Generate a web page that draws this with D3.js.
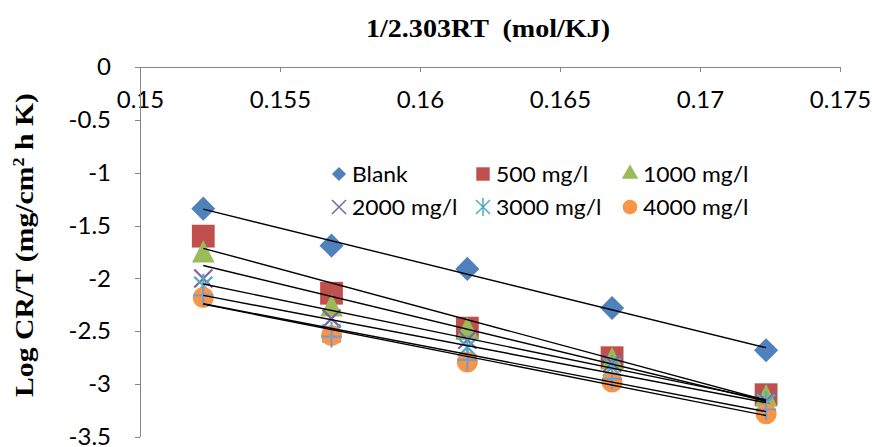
<!doctype html>
<html lang="en">
  <head>
    <meta charset="utf-8">
    <title>Log CR/T vs 1/2.303RT</title>
    <script src="https://d3js.org/d3.v7.min.js"></script>
    <style>
      body { margin: 0; background: #fff; }
      .tick text { font-family: Lato, "Open Sans", sans-serif; font-size: 24px; fill: #000; }
      .axis path, .axis line { stroke: #868686; shape-rendering: crispEdges; }
      .legend text { font-family: Lato, "Open Sans", sans-serif; font-size: 21px; fill: #000; }
      .title { font-family: "Liberation Serif", "Times New Roman", serif; font-weight: bold; font-size: 26px; }
    </style>
  </head>
  <body>
    <div class="chart"></div>
    <script>
      // 1/2.303RT values for 343, 333, 323, 313, 303 K
      const xValues = [0.15226, 0.15684, 0.16169, 0.16686, 0.17236];
      const seriesNames = ['Blank', '500 mg/l', '1000 mg/l', '2000 mg/l', '3000 mg/l', '4000 mg/l', '5000 mg/l'];
      const blank = [-1.34, -1.69, -1.91, -2.28, -2.68];
      const c500 = [-1.60, -2.14, -2.47, -2.75, -3.10];
      const c1000 = [-1.78, -2.29, -2.50, -2.79, -3.14];
      const c2000 = [-2.00, -2.38, -2.58, -2.80, -3.16];
      const c3000 = [-2.07, -2.52, -2.65, -2.84, -3.18];
      const c4000 = [-2.18, -2.54, -2.79, -2.98, -3.28];
      const c5000 = [-2.16, -2.55, -2.77, -2.95, -3.24];
      const xTicks = [0.15, 0.155, 0.16, 0.165, 0.17, 0.175];
      const yTicks = [0, -0.5, -1, -1.5, -2, -2.5, -3, -3.5];

      const w = 872;
      const h = 447;

      const colors = ['#4F81BD', '#C0504D', '#9BBB59', '#8064A2', '#4BACC6', '#F79646', '#7E9BC8'];
      const allSeries = [blank, c500, c1000, c2000, c3000, c4000, c5000];

      const svg = d3.select('.chart').append('svg')
        .attr('width', w)
        .attr('height', h);

      const xScale = d3.scaleLinear().domain([0.15, 0.175]).range([140, 840]);
      const yScale = d3.scaleLinear().domain([0, -3.5]).range([67, 437]);

      // axes
      const xAxis = d3.axisBottom(xScale).tickValues(xTicks).tickSize(5).tickPadding(19);
      svg.append('g').attr('class', 'axis')
        .attr('transform', 'translate(0,' + yScale(0) + ')')
        .call(xAxis)
        .call(g => g.select('.domain').attr('d', 'M' + xScale(0.15) + ',0.5H' + xScale(0.175)));

      const yAxis = d3.axisLeft(yScale).tickValues(yTicks).tickSize(5).tickPadding(24);
      svg.append('g').attr('class', 'axis')
        .attr('transform', 'translate(' + xScale(0.15) + ',0)')
        .call(yAxis)
        .call(g => g.select('.domain').attr('d', 'M0.5,' + yScale(0) + 'V' + yScale(-3.5)));

      svg.selectAll('.axis .tick text').text(d => String(d));

      // markers
      const symbols = ['diamond', d3.symbolSquare, d3.symbolTriangle, 'x', 'star', d3.symbolCircle, 'plus'];
      const sizes = [290, 520, 200, 0, 0, 350, 0];

      function drawMarker(g, i, x, y) {
        const s = symbols[i];
        if (s === 'x') {
          g.append('path').attr('d', `M${x - 9},${y - 9}L${x + 9},${y + 9}M${x + 9},${y - 9}L${x - 9},${y + 9}`)
            .attr('stroke', colors[i]).attr('stroke-width', 2.2).attr('fill', 'none');
        } else if (s === 'star') {
          g.append('path').attr('d', `M${x - 9},${y - 9}L${x + 9},${y + 9}M${x + 9},${y - 9}L${x - 9},${y + 9}M${x},${y - 12}V${y + 12}`)
            .attr('stroke', colors[i]).attr('stroke-width', 2.2).attr('fill', 'none');
        } else if (s === 'plus') {
          g.append('path').attr('d', `M${x - 10},${y}H${x + 10}M${x},${y - 11}V${y + 11}`)
            .attr('stroke', colors[i]).attr('stroke-width', 2.2).attr('fill', 'none');
        } else if (s === 'diamond') {
          g.append('path').attr('d', d3.symbol().type(d3.symbolSquare).size(sizes[i])())
            .attr('transform', `translate(${x},${y}) rotate(45)`)
            .attr('fill', colors[i]);
        } else {
          const sym = d3.symbol().type(s).size(sizes[i]);
          g.append('path').attr('d', sym())
            .attr('transform', s === d3.symbolTriangle ? `translate(${x},${y}) scale(1.05,1.2)` : `translate(${x},${y})`)
            .attr('fill', colors[i]);
        }
      }

      const marks = svg.append('g');
      allSeries.forEach((vals, i) => {
        vals.forEach((v, j) => drawMarker(marks, i, xScale(xValues[j]), yScale(v)));
      });

      // linear trendlines
      const lines = svg.append('g');
      allSeries.forEach(vals => {
        const mx = d3.mean(xValues), my = d3.mean(vals);
        const slope = d3.sum(xValues, (x, k) => (x - mx) * (vals[k] - my)) / d3.sum(xValues, x => (x - mx) * (x - mx));
        const b = my - slope * mx;
        const x0 = xValues[0], x1 = xValues[xValues.length - 1];
        lines.append('line')
          .attr('x1', xScale(x0)).attr('y1', yScale(slope * x0 + b))
          .attr('x2', xScale(x1)).attr('y2', yScale(slope * x1 + b))
          .attr('stroke', '#000').attr('stroke-width', 1.4);
      });

      // legend
      const legend = svg.append('g').attr('class', 'legend');
      const legendX = [339, 483, 630];
      const legendY = [174, 207];
      seriesNames.slice(0, 6).forEach((name, i) => {
        const lx = legendX[i % 3], ly = legendY[Math.floor(i / 3)];
        const s = symbols[i];
        if (s === 'x' || s === 'star') {
          const r = 7;
          let d = `M${lx - r},${ly - r}L${lx + r},${ly + r}M${lx + r},${ly - r}L${lx - r},${ly + r}`;
          if (s === 'star') d += `M${lx},${ly - r - 2}V${ly + r + 2}`;
          legend.append('path').attr('d', d).attr('stroke', colors[i]).attr('stroke-width', 1.5).attr('fill', 'none');
        } else if (s === 'diamond') {
          legend.append('path').attr('d', d3.symbol().type(d3.symbolSquare).size(100)())
            .attr('transform', `translate(${lx},${ly}) rotate(45)`).attr('fill', colors[i]);
        } else {
          const sz = s === d3.symbolSquare ? 180 : s === d3.symbolCircle ? 170 : 120;
          legend.append('path').attr('d', d3.symbol().type(s).size(sz)())
            .attr('transform', `translate(${lx},${ly})`).attr('fill', colors[i]);
        }
        const t = legend.append('text').attr('x', lx + 13).attr('y', ly + 8).text(name);
        const len = t.node().getComputedTextLength();
        t.attr('textLength', len * 1.09).attr('lengthAdjust', 'spacingAndGlyphs');
      });

      // titles
      svg.append('text').attr('class', 'title')
        .attr('x', 488).attr('y', 37).attr('text-anchor', 'middle')
        .attr('xml:space', 'preserve')
        .attr('textLength', 244).attr('lengthAdjust', 'spacingAndGlyphs')
        .text('1/2.303RT  (mol/KJ)');

      const yt = svg.append('text').attr('class', 'title')
        .attr('transform', 'translate(33,245) rotate(-90)')
        .attr('text-anchor', 'middle')
        .attr('textLength', 304).attr('lengthAdjust', 'spacingAndGlyphs');
      yt.append('tspan').text('Log CR/T (mg/cm');
      yt.append('tspan').attr('dy', -9).attr('font-size', 16).text('2');
      yt.append('tspan').attr('dy', 9).text(' h K)');
    </script>
  </body>
</html>
